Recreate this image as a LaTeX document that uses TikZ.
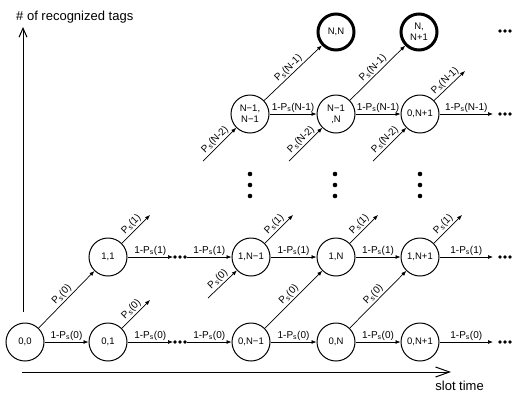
\documentclass[tikz,border=0pt]{standalone}
\usepackage{fontspec}
\setmainfont{Liberation Sans}
\usetikzlibrary{arrows.meta}
\newcommand\Ps{P\textsubscript{s}}
\begin{document}
\begin{tikzpicture}[x=1pt,y=-1pt,
  st/.style={circle,draw,line width=1pt,minimum size=38pt,inner sep=0pt,
             font=\fontsize{9.5}{11}\selectfont,align=center},
  fin/.style={st,line width=3pt,minimum size=36pt},
  tr/.style={line width=0.7pt,-{Latex[length=5pt,width=4pt]}},
  lab/.style={font=\fontsize{10}{11}\selectfont,inner sep=1.5pt},
  axis/.style={line width=1pt},
  dot/.style={circle,fill,inner sep=0pt,minimum size=3.6pt},
  vdot/.style={circle,fill,inner sep=0pt,minimum size=4.6pt},
  axlab/.style={font=\fontsize{13}{14}\selectfont,inner sep=0pt},
]
\useasboundingbox (0,0) rectangle (512,392);

% axes
\coordinate (yo) at (23,312);
\coordinate (yt) at (23,27);
\coordinate (xo) at (22,372);
\coordinate (xt) at (451,372);
\draw[axis,-{Straight Barb[length=9pt,width=8pt]}] (yo) -- (yt);
\draw[axis,-{Straight Barb[length=14pt,width=10pt]}] (xo) -- (xt);
\node[axlab,anchor=west] (ylab) at (16,17) {\# of recognized tags};
\node[axlab,anchor=east] (xlab) at (484,386) {slot time};

% states
\node[st] (a00) at (25,342) {0,0};
\node[st] (a01) at (108,342) {0,1};
\node[st] (a0m) at (251,342) {0,N−1};
\node[st] (a0n) at (336,342) {0,N};
\node[st] (a0p) at (420,342) {0,N+1};
\node[st] (a11) at (108,257) {1,1};
\node[st] (a1m) at (251,257) {1,N−1};
\node[st] (a1n) at (336,257) {1,N};
\node[st] (a1p) at (420,257) {1,N+1};
\node[st] (amm) at (250,114) {N−1,\\N−1};
\node[st] (amn) at (336,114) {N−1\\,N};
\node[st] (amp) at (420,114) {0,N+1};
\node[fin] (ann) at (336,32) {N,N};
\node[fin] (anp) at (419,32) {N,\\N+1};

% ellipsis dots
\foreach \n/\x/\y in {d0a/175/342,d0b/180/342,d0c/185/342,
                      d1a/175/257,d1b/180/257,d1c/185/257,
                      r0a/500/342,r0b/505/342,r0c/510/342,
                      r1a/500/257,r1b/505/257,r1c/510/257,
                      r2a/500/114,r2b/505/114,r2c/510/114,
                      r3a/500/31,r3b/505/31,r3c/510/31}
  \node[dot] (\n) at (\x,\y) {};
\foreach \n/\x in {va/250,vb/335,vc/420}{
  \node[vdot] (\n1) at (\x,174) {};
  \node[vdot] (\n2) at (\x,185) {};
  \node[vdot] (\n3) at (\x,196) {};
}

% free ends
\coordinate (e0) at (493,342);
\coordinate (e1) at (493,257);
\coordinate (e2) at (493,114);
\coordinate (s01) at (150,300);
\coordinate (s11) at (150,215);
\coordinate (s1m) at (293,215);
\coordinate (s1n) at (378,215);
\coordinate (s1p) at (462,215);
\coordinate (smp) at (465,71);
\coordinate (i1m) at (208,298);
\coordinate (imm) at (203,161);
\coordinate (imn) at (289,161);
\coordinate (imp) at (373,161);

% row 0
\draw[tr] (a00) -- node[lab,above]{1-\Ps(0)} (a01);
\draw[tr] (a01) -- node[lab,above]{1-\Ps(0)} (d0a);
\draw[tr] (d0c) -- node[lab,above]{1-\Ps(0)} (a0m);
\draw[tr] (a0m) -- node[lab,above]{1-\Ps(0)} (a0n);
\draw[tr] (a0n) -- node[lab,above]{1-\Ps(0)} (a0p);
\draw[tr] (a0p) -- node[lab,above]{1-\Ps(0)} (e0);

% row 1
\draw[tr] (a11) -- node[lab,above]{1-\Ps(1)} (d1a);
\draw[tr] (d1c) -- node[lab,above]{1-\Ps(1)} (a1m);
\draw[tr] (a1m) -- node[lab,above]{1-\Ps(1)} (a1n);
\draw[tr] (a1n) -- node[lab,above]{1-\Ps(1)} (a1p);
\draw[tr] (a1p) -- node[lab,above]{1-\Ps(1)} (e1);

% top row
\draw[tr] (amm) -- node[lab,above]{1-\Ps(N-1)} (amn);
\draw[tr] (amn) -- node[lab,above]{1-\Ps(N-1)} (amp);
\draw[tr] (amp) -- node[lab,above]{1-\Ps(N-1)} (e2);

% diagonals 0 -> 1
\draw[tr] (a00) -- node[lab,above,sloped]{\Ps(0)} (a11);
\draw[tr] (a01) -- node[lab,above,sloped]{\Ps(0)} (s01);
\draw[tr] (i1m) -- node[lab,above,sloped]{\Ps(0)} (a1m);
\draw[tr] (a0m) -- node[lab,above,sloped]{\Ps(0)} (a1n);
\draw[tr] (a0n) -- node[lab,above,sloped]{\Ps(0)} (a1p);

% diagonals 1 -> 2
\draw[tr] (a11) -- node[lab,above,sloped]{\Ps(1)} (s11);
\draw[tr] (a1m) -- node[lab,above,sloped]{\Ps(1)} (s1m);
\draw[tr] (a1n) -- node[lab,above,sloped]{\Ps(1)} (s1n);
\draw[tr] (a1p) -- node[lab,above,sloped]{\Ps(1)} (s1p);

% top diagonals
\draw[tr] (imm) -- node[lab,above,sloped]{\Ps(N-2)} (amm);
\draw[tr] (imn) -- node[lab,above,sloped]{\Ps(N-2)} (amn);
\draw[tr] (imp) -- node[lab,above,sloped]{\Ps(N-2)} (amp);
\draw[tr] (amm) -- node[lab,above,sloped]{\Ps(N-1)} (ann);
\draw[tr] (amn) -- node[lab,above,sloped]{\Ps(N-1)} (anp);
\draw[tr] (amp) -- node[lab,above,sloped]{\Ps(N-1)} (smp);
\end{tikzpicture}
\end{document}
